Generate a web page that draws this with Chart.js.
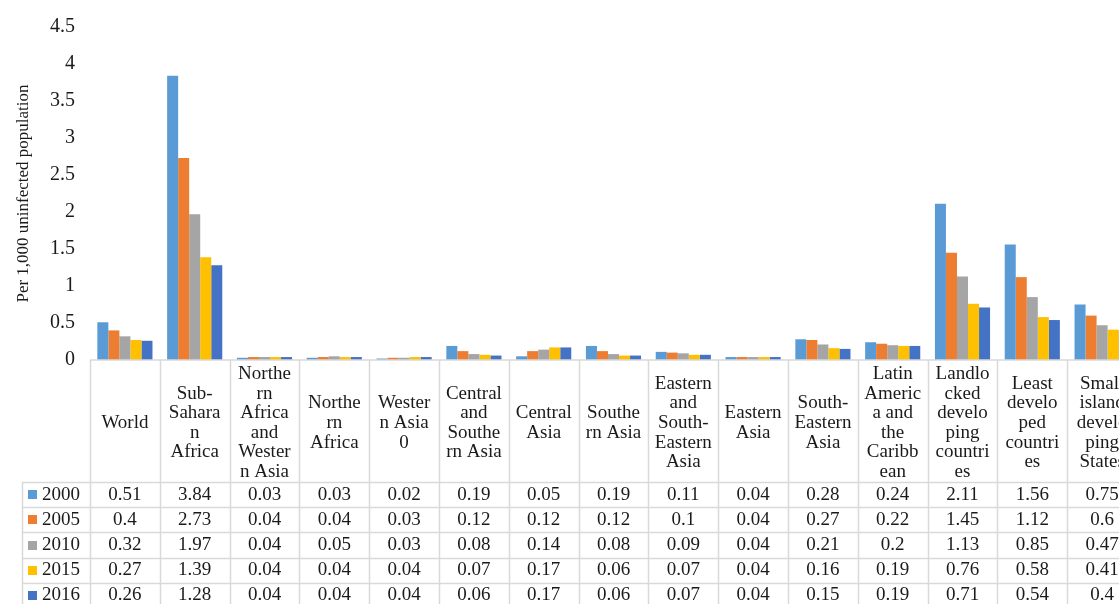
<!DOCTYPE html>
<html>
<head>
<meta charset="utf-8">
<script src="https://cdn.jsdelivr.net/npm/chart.js@4.4.1/dist/chart.umd.min.js"></script>
<style>
  html, body { margin: 0; padding: 0; background: #ffffff; overflow: hidden; }
  #wrap { position: relative; width: 1150px; height: 620px; }
</style>
</head>
<body>
<div id="wrap"><canvas id="chart"></canvas></div>
<script>
// Region names, wrapped the way they appear in the table header
const categories = [
  ["World"],
  ["Sub-", "Sahara", "n", "Africa"],
  ["Northe", "rn", "Africa", "and", "Wester", "n Asia"],
  ["Northe", "rn", "Africa"],
  ["Wester", "n Asia", "0"],
  ["Central", "and", "Southe", "rn Asia"],
  ["Central", "Asia"],
  ["Southe", "rn Asia"],
  ["Eastern", "and", "South-", "Eastern", "Asia"],
  ["Eastern", "Asia"],
  ["South-", "Eastern", "Asia"],
  ["Latin", "Americ", "a and", "the", "Caribb", "ean"],
  ["Landlo", "cked", "develo", "ping", "countri", "es"],
  ["Least", "develo", "ped", "countri", "es"],
  ["Small", "island", "develo", "ping", "States"]
];

const years = ["2000", "2005", "2010", "2015", "2016"];

// New HIV infections per 1,000 uninfected population
const values2000 = [0.51, 3.84, 0.03, 0.03, 0.02, 0.19, 0.05, 0.19, 0.11, 0.04, 0.28, 0.24, 2.11, 1.56, 0.75];
const values2005 = [0.4, 2.73, 0.04, 0.04, 0.03, 0.12, 0.12, 0.12, 0.1, 0.04, 0.27, 0.22, 1.45, 1.12, 0.6];
const values2010 = [0.32, 1.97, 0.04, 0.05, 0.03, 0.08, 0.14, 0.08, 0.09, 0.04, 0.21, 0.2, 1.13, 0.85, 0.47];
const values2015 = [0.27, 1.39, 0.04, 0.04, 0.04, 0.07, 0.17, 0.06, 0.07, 0.04, 0.16, 0.19, 0.76, 0.58, 0.41];
const values2016 = [0.26, 1.28, 0.04, 0.04, 0.04, 0.06, 0.17, 0.06, 0.07, 0.04, 0.15, 0.19, 0.71, 0.54, 0.4];

const yTicks = { min: 0, max: 4.5, step: 0.5 };

const seriesValues = [values2000, values2005, values2010, values2015, values2016];
const seriesColors = ["#5B9BD5", "#ED7D31", "#A5A5A5", "#FFC000", "#4472C4"];

const SERIF = "'Liberation Serif', 'Times New Roman', serif";
const GRID = "#d9d9d9";
const TEXT = "#1a1a1a";

// Header height and row height of the data table under the plot
const HEADER_H = 122;
const ROW_H = 25.2;
const LEGEND_LEFT = 22;

// Draws the data table (grid, legend keys, values) below the plot area
const dataTable = {
  id: "dataTable",
  afterDraw(chart) {
    const ctx = chart.ctx;
    const area = chart.chartArea;
    const xs = chart.scales.x;
    const n = categories.length;
    const colW = (area.right - area.left) / n;
    const rowTop = area.bottom + HEADER_H;
    const tableBottom = rowTop + seriesValues.length * ROW_H;

    ctx.save();
    ctx.strokeStyle = GRID;
    ctx.lineWidth = 1.5;

    // top rule (category axis)
    ctx.beginPath();
    ctx.moveTo(area.left, area.bottom);
    ctx.lineTo(area.right, area.bottom);
    ctx.stroke();

    // column separators
    for (let i = 0; i <= n; i++) {
      const x = Math.round(xs.getPixelForValue(0) - colW / 2 + i * colW) + 0.5;
      ctx.beginPath();
      ctx.moveTo(x, area.bottom);
      ctx.lineTo(x, tableBottom + 20);
      ctx.stroke();
    }

    // row separators
    for (let r = 0; r <= seriesValues.length; r++) {
      const y = Math.round(rowTop + r * ROW_H) + 0.5;
      ctx.beginPath();
      ctx.moveTo(LEGEND_LEFT, y);
      ctx.lineTo(area.right, y);
      ctx.stroke();
    }

    // legend column border
    ctx.beginPath();
    ctx.moveTo(LEGEND_LEFT + 0.5, rowTop);
    ctx.lineTo(LEGEND_LEFT + 0.5, tableBottom + 20);
    ctx.stroke();

    // legend keys and year labels
    ctx.font = "19px " + SERIF;
    ctx.textBaseline = "middle";
    chart.data.datasets.forEach((ds, s) => {
      const yMid = rowTop + s * ROW_H + ROW_H / 2;
      ctx.fillStyle = ds.backgroundColor;
      ctx.fillRect(LEGEND_LEFT + 6, Math.round(yMid - 4.5), 9, 9);
      ctx.fillStyle = TEXT;
      ctx.textAlign = "left";
      ctx.fillText(ds.label, LEGEND_LEFT + 20, yMid);
    });

    // values
    ctx.textAlign = "center";
    chart.data.datasets.forEach((ds, s) => {
      const yMid = rowTop + s * ROW_H + ROW_H / 2;
      ds.data.forEach((v, i) => {
        ctx.fillText(String(v), xs.getPixelForValue(i), yMid);
      });
    });
    ctx.restore();
  }
};

new Chart(document.getElementById("chart"), {
  type: "bar",
  data: {
    labels: categories,
    datasets: years.map((yr, s) => ({
      label: yr,
      data: seriesValues[s],
      backgroundColor: seriesColors[s],
      borderWidth: 0,
      categoryPercentage: 0.79,
      barPercentage: 1.0
    }))
  },
  options: {
    responsive: true,
    maintainAspectRatio: false,
    animation: false,
    layout: { padding: { top: 20, right: 13, bottom: 0, left: 0 } },
    plugins: {
      legend: { display: false },
      tooltip: { enabled: false }
    },
    scales: {
      x: {
        grid: { display: false, drawTicks: false },
        border: { display: false },
        ticks: {
          color: TEXT,
          font: { family: SERIF, size: 19, lineHeight: 19.6 / 19 },
          padding: 14,
          maxRotation: 0,
          minRotation: 0,
          autoSkip: false,
          crossAlign: "center"
        },
        afterFit(scale) { scale.height = 620 - 360; }
      },
      y: {
        min: yTicks.min,
        max: yTicks.max,
        grid: { display: false, drawTicks: false },
        border: { display: false },
        ticks: {
          stepSize: yTicks.step,
          color: TEXT,
          font: { family: SERIF, size: 20 },
          padding: 15,
          callback: (v) => String(Math.round(v * 10) / 10)
        },
        title: {
          display: true,
          text: "Per 1,000 uninfected population",
          color: TEXT,
          font: { family: SERIF, size: 17 },
          padding: { top: 13, bottom: 0 }
        },
        afterFit(scale) { scale.width = 90; }
      }
    }
  },
  plugins: [dataTable]
});
</script>
</body>
</html>
